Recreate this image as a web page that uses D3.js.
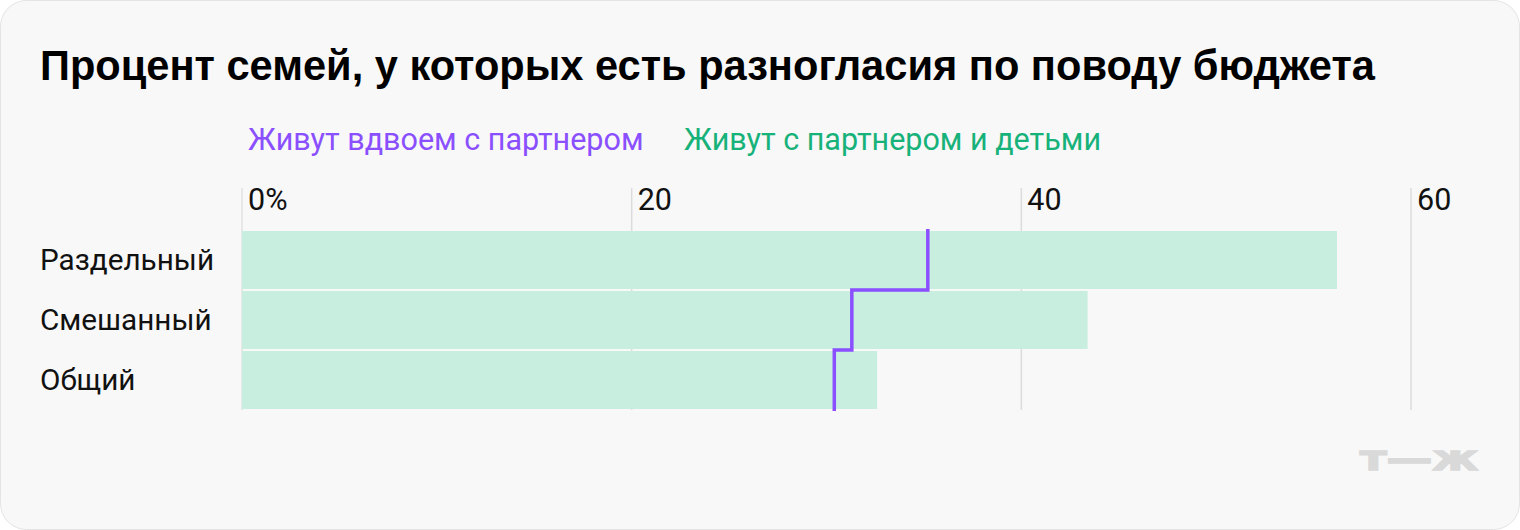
<!DOCTYPE html>
<html><head><meta charset="utf-8">
<script src="https://cdn.jsdelivr.net/npm/d3@7"></script>
<style>body{margin:0;background:#fff;}svg{display:block;font-family:Roboto,"Noto Sans",sans-serif;}</style>
</head><body>
<svg id="c" width="1520" height="530"></svg>
<script>
const categories = ["Раздельный", "Смешанный", "Общий"];
const withKids = [56.2, 43.4, 32.6];
const twoOnly = [35.2, 31.3, 30.4];
const ticks = [0, 20, 40, 60];
const tickLabels = ["0%", "20", "40", "60"];
const legendLabels = ["Живут вдвоем с партнером", "Живут с партнером и детьми"];
const title = "Процент семей, у которых есть разногласия по поводу бюджета";

const svg = d3.select("#c");
svg.append("rect").attr("x",0.5).attr("y",0.5).attr("width",1519).attr("height",529)
  .attr("rx",26).attr("fill","#f8f8f8").attr("stroke","#e4e4e4");

svg.append("text").attr("x",40).attr("y",80).attr("font-size",41.6).attr("font-weight",700)
  .attr("font-family","'Liberation Sans',Arial,sans-serif").attr("fill","#000").text(title);

const x = d3.scaleLinear().domain([0,60]).range([242,1411]);
const y = d3.scaleBand().domain(categories).range([231,409]).paddingInner(2/60).paddingOuter(0);

// legend
svg.append("text").attr("x",248).attr("y",150).attr("font-size",30.5).attr("fill","#8a4fff").text(legendLabels[0]);
svg.append("text").attr("x",684).attr("y",150).attr("font-size",30.5).attr("fill","#17b27a").text(legendLabels[1]);

// grid
const g = svg.append("g");
g.selectAll("line.grid").data(ticks).join("line").attr("class","grid")
  .attr("x1",d=>x(d)).attr("x2",d=>x(d)).attr("y1",188).attr("y2",410)
  .attr("stroke",d=>d===0?"#e2e2e2":"#dcdcdc").attr("stroke-width",1.5);
g.selectAll("text.tick").data(ticks).join("text").attr("class","tick")
  .attr("x",d=>x(d)+6).attr("y",210).attr("font-size",30.5).attr("fill","#111")
  .text((d,i)=>tickLabels[i]);

// bars
svg.append("g").selectAll("rect").data(categories).join("rect")
  .attr("x",x(0)).attr("y",d=>y(d)).attr("width",(d,i)=>x(withKids[i])-x(0))
  .attr("height",y.bandwidth()).attr("fill","#c7eedf");

// category labels
svg.append("g").selectAll("text").data(categories).join("text")
  .attr("x",40).attr("y",d=>y(d)+y.bandwidth()/2).attr("dy","0.35em")
  .attr("font-size",29.7).attr("fill","#111").text(d=>d);

// step line
const pts = [];
categories.forEach((c,i)=>{
  const top = i===0 ? y(c)-2 : y(c)-1;
  const bot = i===categories.length-1 ? y(c)+y.bandwidth()+2 : y(c)+y.bandwidth()+1;
  pts.push([x(twoOnly[i]), top]);
  pts.push([x(twoOnly[i]), bot]);
});
svg.append("path").attr("d", d3.line()(pts)).attr("fill","none")
  .attr("stroke","#8a4fff").attr("stroke-width",3.5).attr("stroke-linejoin","miter");

// logo
svg.append("text").attr("x",1360).attr("y",470).attr("font-size",33).attr("font-weight",900)
  .attr("font-family","'DejaVu Sans',sans-serif").attr("fill","#d9d9d9").attr("stroke","#d9d9d9").attr("stroke-width",1.5)
  .attr("textLength",118).attr("lengthAdjust","spacingAndGlyphs").text("т—ж");
</script>
</body></html>
